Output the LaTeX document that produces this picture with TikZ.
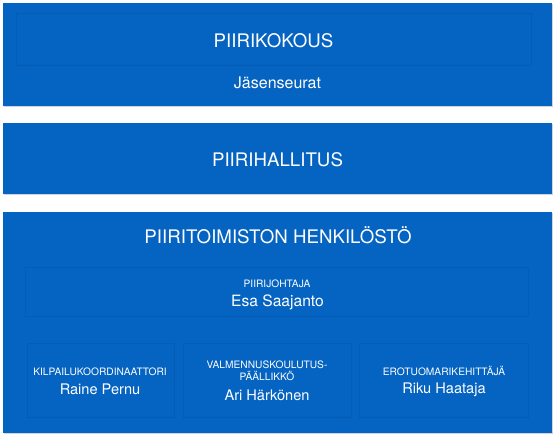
\documentclass[tikz,border=0pt]{standalone}
\usepackage{fontspec}
\setmainfont{TeX Gyre Heros}
\usetikzlibrary{shadows}

\definecolor{piiriblue}{RGB}{5,99,193}
\definecolor{piiriedge}{RGB}{4,92,180}
\definecolor{piirishade}{RGB}{4,82,162}
\definecolor{piirigray}{RGB}{206,211,220}

\begin{document}
\begin{tikzpicture}[x = 1pt, y = -1pt,
    panel/.style = {fill = piiriblue, inner sep = 0pt,
        drop shadow = {shadow xshift = 0.5pt, shadow yshift = -1pt, fill = piirigray, opacity = 1}},
    card/.style = {fill = piiriblue, draw = piiriedge, line width = 0.5pt, inner sep = 0pt,
        drop shadow = {shadow xshift = 0pt, shadow yshift = -1.4pt, fill = piirishade, draw = none, opacity = 1}},
    head/.style = {text = white, anchor = base, inner sep = 0pt, font = \fontsize{18.7}{22}\selectfont},
    role/.style = {text = white, anchor = base, inner sep = 0pt, font = \fontsize{10.2}{12}\selectfont},
    person/.style = {text = white, anchor = base, inner sep = 0pt, font = \fontsize{14.6}{17}\selectfont}]
    \useasboundingbox (0,0) rectangle (556,438);
    % piirikokous
    \node[panel, minimum width = 549pt, minimum height = 103pt] (kokousbg) at (277.5,54.5) {};
    \node[card, minimum width = 515pt, minimum height = 52pt] (kokous) at (273.5,39) {};
    \node[head] (kokoustxt) at (273.5,48) {PIIRIKOKOUS};
    \node[person, font = \fontsize{16}{19}\selectfont] (jasenet) at (277.5,89) {Jäsenseurat};
    % piirihallitus
    \node[panel, minimum width = 549pt, minimum height = 71pt] (hallitus) at (277.5,158.5) {};
    \node[head] (hallitustxt) at (277.5,167) {PIIRIHALLITUS};
    % henkilosto
    \node[panel, minimum width = 549pt, minimum height = 221pt] (henkilosto) at (277.5,322.5) {};
    \node[head] (toimisto) at (278,243) {PIIRITOIMISTON HENKILÖSTÖ};
    \node[card, minimum width = 503pt, minimum height = 49pt] (johtaja) at (276.5,291.5) {};
    \node[role] (johtajarole) at (277,287) {PIIRIJOHTAJA};
    \node[person, font = \fontsize{15.6}{18}\selectfont] (johtajaname) at (277.5,306) {Esa Saajanto};
    \node[card, minimum width = 147pt, minimum height = 74pt] (kilpailu) at (100.5,380) {};
    \node[role] (kilpailurole) at (100,375) {KILPAILUKOORDINAATTORI};
    \node[person] (kilpailuname) at (100,394) {Raine Pernu};
    \node[card, minimum width = 168pt, minimum height = 74pt] (valmennus) at (267,380) {};
    \node[role] (valmennusrole) at (267,368) {VALMENNUSKOULUTUS-};
    \node[role] (valmennusrole2) at (267,380) {PÄÄLLIKKÖ};
    \node[person] (valmennusname) at (267,400) {Ari Härkönen};
    \node[card, minimum width = 169pt, minimum height = 74pt] (erotuomari) at (443.5,380) {};
    \node[role] (erotuomarirole) at (444,375) {EROTUOMARIKEHITTÄJÄ};
    \node[person] (erotuomariname) at (444,393) {Riku Haataja};
\end{tikzpicture}
\end{document}
